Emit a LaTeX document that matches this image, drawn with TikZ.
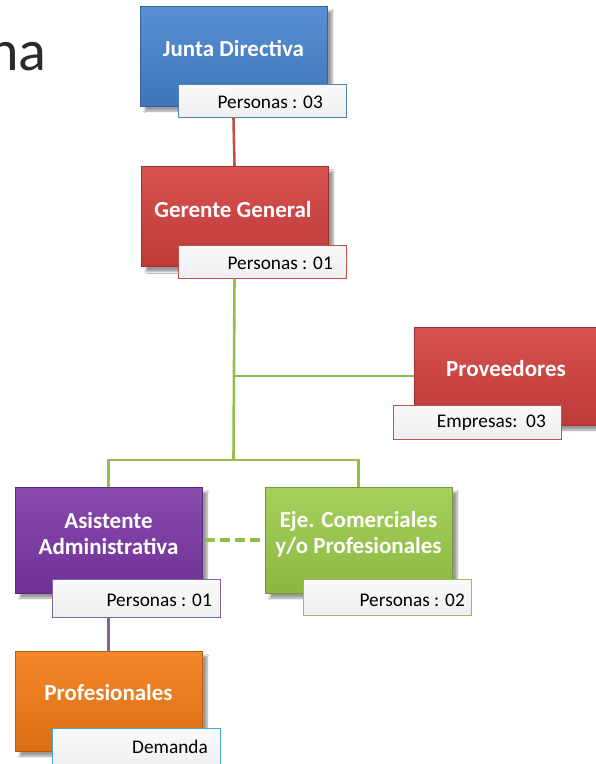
\documentclass[tikz,border=0pt]{standalone}
\usepackage{fontspec}
\setmainfont{Carlito}
\usetikzlibrary{shadows.blur}
\definecolor{cblue}{HTML}{4683CF}
\definecolor{cred}{HTML}{D2403E}
\definecolor{cpurple}{HTML}{7B36A6}
\definecolor{cgreen}{HTML}{9CCB4A}
\definecolor{corange}{HTML}{F47A14}
\definecolor{bblue}{HTML}{4F81BD}
\definecolor{bred}{HTML}{C0504D}
\definecolor{bpurple}{HTML}{8064A2}
\definecolor{bgreen}{HTML}{9BBB59}
\definecolor{bteal}{HTML}{4BACC6}
\definecolor{lred}{HTML}{C0504D}
\definecolor{lgreen}{HTML}{93BE4C}
\definecolor{lpurple}{HTML}{8064A2}
\definecolor{titlegray}{HTML}{2B2B2B}
\tikzset{
  mainbox/.style={draw=#1!75!black, line width=0.6pt, top color=#1!90!white, bottom color=#1!90!black,
    minimum width=187pt, minimum height=100pt, inner sep=0pt,
    blur shadow={shadow xshift=5pt, shadow yshift=-5pt, shadow blur steps=8, shadow opacity=40}},
  subbox/.style={draw=#1, line width=1pt, top color=white!96!gray, bottom color=white!88!gray,
    minimum width=168pt, minimum height=33pt, inner sep=0pt},
  mainlabel/.style={text=white, font=\bfseries\fontsize{23}{26}\selectfont, align=center, inner sep=0pt},
  sublabel/.style={text=black, font=\fontsize{19.3}{22}\selectfont, anchor=east, inner sep=0pt},
  conn/.style={line width=2.6pt, draw=#1},
}
\begin{document}
\begin{tikzpicture}[x=1pt,y=-1pt]
\useasboundingbox (0,0) rectangle (596,764);
\fill[white] (0,0) rectangle (596,764);
% partial title
\node[anchor=base east, text=titlegray, font=\fontsize{58}{60}\selectfont, inner sep=0pt] (title) at (47,70) {na};

% Junta Directiva
\node[mainbox=cblue] (jd) at (233.5,56) {};
\node[mainlabel] (jdl) at (233.5,48) {Junta Directiva};
\node[subbox=bblue] (jds) at (262,100.5) {};
\node[sublabel] (jdt) at (323,102) {Personas : 03};

% Gerente General
\node[mainbox=cred] (gg) at (234.5,216.5) {};
\node[mainlabel] (ggl) at (233,210) {Gerente General};
\node[subbox=bred] (ggs) at (262,261.5) {};
\node[sublabel] (ggt) at (333,263) {Personas : 01};

% Proveedores
\node[mainbox=cred, minimum height=98pt] (pv) at (508,376) {};
\node[mainlabel] (pvl) at (506,369) {Proveedores};
\node[subbox=bred, minimum height=34pt] (pvs) at (477.5,422) {};
\node[sublabel] (pvt) at (546,423) {Empresas:\ \ 03};

% Asistente Administrativa
\node[mainbox=cpurple, minimum height=106pt] (aa) at (108.5,540) {};
\node[mainlabel] (aal) at (108.5,534) {Asistente\\[0pt]Administrativa};
\node[subbox=bpurple, minimum height=38pt] (aas) at (136.5,598) {};
\node[sublabel] (aat) at (212,600) {Personas : 01};

% Eje. Comerciales
\node[mainbox=cgreen, minimum height=106pt] (ec) at (358.5,540) {};
\node[mainlabel] (ecl) at (358.5,534) {Eje. Comerciales\\[0pt]y/o Profesionales};
\node[subbox=bgreen, minimum height=36pt] (ecs) at (387,597) {};
\node[sublabel] (ect) at (465,600) {Personas : 02};

% Profesionales
\node[mainbox=corange] (pf) at (108.5,701) {};
\node[mainlabel] (pfl) at (108.5,693) {Profesionales};
\node[subbox=bteal, minimum height=40pt] (pfs) at (136,748) {};
\node[sublabel] (pft) at (208,747) {Demanda};

\coordinate (j1) at (233.5,460);

% connectors (they end on the box edges)
\draw[conn=lred] (jd.south |- jds.south) -- (gg.north);
\draw[conn=lgreen] (gg.south |- ggs.south) -- (j1);
\draw[conn=lgreen] (gg.south |- pv.west) -- (pv.west);
\draw[conn=lgreen] (aa.north) |- (j1) -| (ec.north);
\draw[conn=lpurple] (aa.south |- aas.south) -- (pf.north);
\draw[lgreen, line width=4pt, dash pattern=on 10pt off 5pt, shorten <=3pt, shorten >=3pt] (aa.east) -- (ec.west);
\end{tikzpicture}
\end{document}
